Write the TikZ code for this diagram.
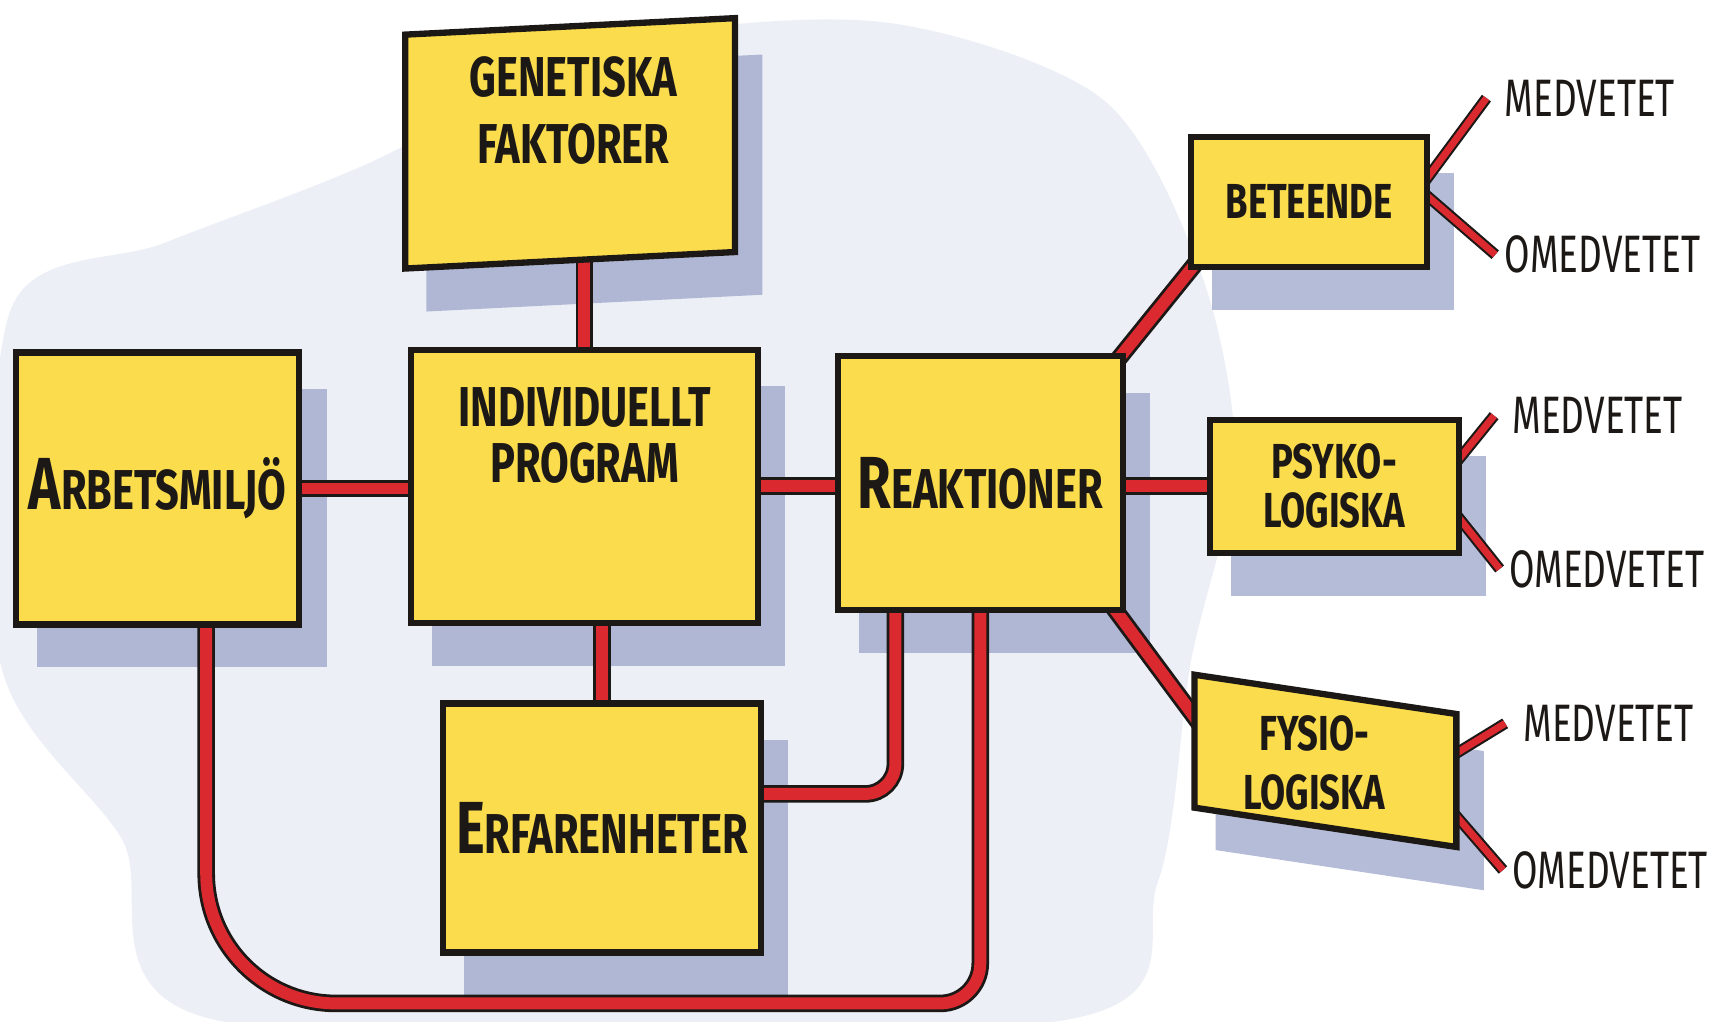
\documentclass[tikz,border=0pt]{standalone}
\usepackage{fontspec}
\newfontfamily\boxfont[FakeStretch=0.74]{Fira Sans}
\newfontfamily\notefont[FakeStretch=0.70]{Fira Sans}
\usetikzlibrary{calc}
\definecolor{boxyellow}{RGB}{250,220,76}
\definecolor{linkred}{RGB}{218,42,48}
\definecolor{shadowblue}{RGB}{150,160,198}
\definecolor{washblue}{RGB}{236,239,246}
\definecolor{inkblack}{RGB}{28,24,22}
\newcommand{\initial}[1]{{\fontsize{21pt}{21pt}\selectfont #1}}
\pgfdeclarelayer{wash}
\pgfdeclarelayer{shade}
\pgfdeclarelayer{links}
\pgfsetlayers{wash,shade,links,main}
\tikzset{
  box/.style={draw=inkblack, line width=1.8pt, fill=boxyellow, inner sep=0pt,
    font=\boxfont\bfseries\fontsize{16pt}{14pt}\selectfont, text=inkblack, align=center},
  smallbox/.style={box, font=\boxfont\bfseries\fontsize{14pt}{14pt}\selectfont},
  boxtext/.style={font=\boxfont\bfseries\fontsize{16pt}{14pt}\selectfont, text=inkblack,
    align=center, inner sep=0pt},
  smalltext/.style={boxtext, font=\boxfont\bfseries\fontsize{14pt}{14pt}\selectfont},
  note/.style={font=\notefont\fontsize{15pt}{15pt}\selectfont, text=inkblack,
    inner sep=0pt, anchor=west},
  link/.style={draw=inkblack, line width=0.8pt, double=linkred, double distance=3.4pt},
  thinlink/.style={link, line width=0.6pt, double distance=2pt},
  boxshadow/.style={fill=shadowblue, opacity=0.7}
}
\begin{document}
\begin{tikzpicture}[x=0.011027cm, y=-0.011027cm]
\useasboundingbox (0,0) rectangle (1568,926);
% boxes
\node[box, minimum width=3.30cm, minimum height=2.34cm, yslant=0.05, transform shape] (gen) at (517,130) {};
\node[boxtext] (gentxt) at (520,100) {GENETISKA\\[5pt]FAKTORER};
\node[box, minimum width=2.83cm, minimum height=2.72cm] (arb) at (143,443) {\initial{A}RBETSMILJÖ};
\node[box, minimum width=3.47cm, minimum height=2.73cm] (ind) at (530,441) {};
\node[boxtext] (indtxt) at (530,395) {INDIVIDUELLT\\[2pt]PROGRAM};
\node[box, minimum width=2.85cm, minimum height=2.54cm] (reak) at (889,438) {\initial{R}EAKTIONER};
\node[box, minimum width=3.18cm, minimum height=2.49cm] (erf) at (546,751) {\initial{E}RFARENHETER};
\node[smallbox, minimum width=2.36cm, minimum height=1.30cm] (bet) at (1187,183) {BETEENDE};
\node[smallbox, minimum width=2.49cm, minimum height=1.33cm] (psy) at (1210,441) {PSYKO-\\LOGISKA};
\node[smallbox, minimum width=2.62cm, minimum height=1.33cm, yslant=-0.15, transform shape] (fys) at (1202,690) {};
\node[smalltext] (fystxt) at (1192,692) {FYSIO-\\[3pt]LOGISKA};
% labels on the right
\node[note] (med1) at (1364,89) {MEDVETET};
\node[note] (omed1) at (1364,231) {OMEDVETET};
\node[note] (med2) at (1371,377) {MEDVETET};
\node[note] (omed2) at (1368,516) {OMEDVETET};
\node[note] (med3) at (1381,656) {MEDVETET};
\node[note] (omed3) at (1371,789) {OMEDVETET};
\coordinate (arbfoot) at ([shift={(44,0)}]arb.center);
\coordinate (loopbed) at (0,910);
% background wash
\begin{pgfonlayer}{wash}
\fill[washblue] plot[smooth cycle] coordinates {(10,280) (150,220) (330,150) (560,40) (800,20)
  (1000,90) (1090,250) (1120,420) (1080,600) (1050,800) (960,926) (200,926) (110,760) (0,600)};
\end{pgfonlayer}
% shadows
\begin{pgfonlayer}{shade}
\foreach \n in {gen,arb,ind,reak,erf,bet,psy,fys}
  \fill[boxshadow] ([shift={(22,36)}]\n.north west) -- ([shift={(22,36)}]\n.north east)
    -- ([shift={(22,36)}]\n.south east) -- ([shift={(22,36)}]\n.south west) -- cycle;
\end{pgfonlayer}
% connectors
\begin{pgfonlayer}{links}
\draw[link] (ind.center) -- (ind.center |- gen.center);
\draw[link] (arb.center) -- (arb.center -| ind.center);
\draw[link] (ind.center) -- (ind.center -| reak.center);
\draw[link] (erf.center) -- (erf.center |- ind.center);
\draw[link, rounded corners=0.3cm] ([shift={(0,-31)}]erf.center) -| ([shift={(-77,0)}]reak.center);
\draw[link] (arbfoot) [rounded corners=1.3cm] -- (arbfoot |- loopbed)
  [rounded corners=0.4cm] -- (reak.center |- loopbed) -- (reak.center);
\draw[link] ([shift={(-12,12)}]reak.north east) -- ([shift={(12,-12)}]bet.south west);
\draw[link] (psy.center) -- (psy.center -| reak.center);
\draw[link] ([shift={(-15,-10)}]reak.south east) -- ([shift={(10,-12)}]fys.west);
\foreach \b/\m/\o/\dm/\do in {bet/med1/omed1/-14/-10, psy/med2/omed2/-18/22, fys/med3/omed3/-22/26} {
  \draw[thinlink] ([shift={(-8,\dm)}]\b.east) -- ([shift={(-16,0)}]\m.west);
  \draw[thinlink] ([shift={(-8,\do)}]\b.east) -- ([shift={(-8,0)}]\o.west);
}
\end{pgfonlayer}
\end{tikzpicture}
\end{document}
